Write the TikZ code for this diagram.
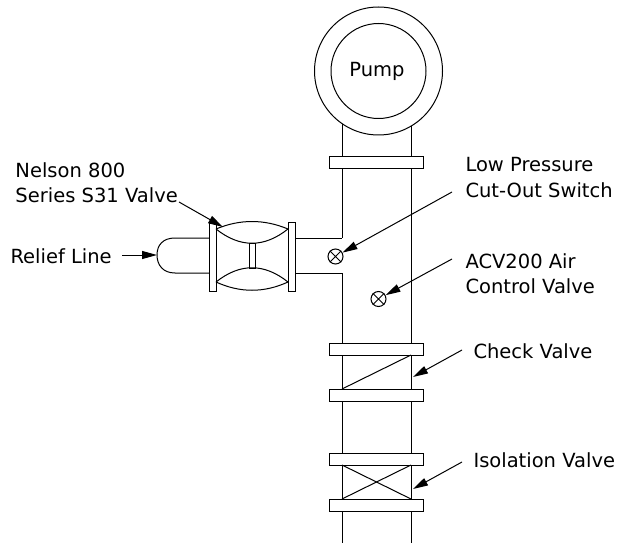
\documentclass[tikz,border=0pt]{standalone}
\usepackage{fontspec}
\setmainfont{DejaVu Sans}
\usetikzlibrary{arrows.meta,calc}

\tikzset{
  lbl/.style={anchor=base west, inner sep=0pt, align=left, font=\fontsize{19.5}{25}\selectfont},
  pointer/.style={-{Triangle[length=15pt,width=8pt]}},
  flange/.style={draw, fill=white},
  gauge/.style={draw, circle, fill=white, minimum size=15pt, inner sep=0pt},
}

\begin{document}
\begin{tikzpicture}[x=1pt,y=-1pt,line width=1pt]
  \useasboundingbox (0,0) rectangle (618,548);
  % main pipe
  \draw (342,71) -- (342,238);
  \draw (342,273) -- (342,543);
  \draw (411,71) -- (411,543);
  % pump
  \draw[fill=white] (378.5,71) circle[radius=64pt];
  \draw (378.5,71) circle[radius=47.5pt];
  \node[anchor=base, inner sep=0pt, font=\fontsize{19.5}{25}\selectfont] (pump) at (377,77) {Pump};
  % flanges on the main pipe
  \foreach \y in {157,343,389,453,499}
    \draw[flange] (329,\y) rectangle (423,\y+12);
  % check valve
  \draw (342,389) -- (411,355);
  % isolation valve
  \draw (342,465) -- (411,499);
  \draw (342,499) -- (411,465);
  % side branch and relief valve
  \draw (295,238) -- (342,238);
  \draw (295,273) -- (342,273);
  \draw[flange] (209,222) rectangle (216,291);
  \draw[flange] (288,222) rectangle (295,291);
  \draw (216,229) .. controls (240,219) and (264,219) .. (288,229);
  \draw (216,229) .. controls (240,248) and (264,248) .. (288,229);
  \draw (216,282) .. controls (240,263) and (264,263) .. (288,282);
  \draw (216,282) .. controls (240,293) and (264,293) .. (288,282);
  \draw (249,243) rectangle (255,268);
  % relief line loop
  \draw (209,238) -- (175,238) .. controls (163,238) and (157,245) .. (157,255)
        .. controls (157,265) and (163,273) .. (175,273) -- (209,273);
  % switch and air valve
  \node[gauge] (lps) at (335.5,256.5) {};
  \draw (lps.north west) -- (lps.south east) (lps.north east) -- (lps.south west);
  \node[gauge] (acvs) at (378.5,299) {};
  \draw (acvs.north west) -- (acvs.south east) (acvs.north east) -- (acvs.south west);
  % targets
  \coordinate (svtip) at (223,227);
  \coordinate (relieftip) at (157,255);
  \coordinate (chktip) at (413,377);
  \coordinate (isotip) at (413,489);
  % labels
  \node[lbl] (nelson) at (15,203) {Nelson 800\\Series S31 Valve};
  \node[lbl] (relief) at (10,263) {Relief Line};
  \node[lbl] (lowp) at (465,197) {Low Pressure\\Cut-Out Switch};
  \node[lbl] (acv) at (465,293) {ACV200 Air\\Control Valve};
  \node[lbl] (chk) at (473,358) {Check Valve};
  \node[lbl] (iso) at (473,467) {Isolation Valve};
  % pointers
  \draw[pointer] ($(nelson.base west)+(164,-1)$) -- (svtip);
  \draw[pointer] ($(relief.base west)+(112,-8)$) -- (relieftip);
  \draw[pointer] ($(lowp.base west)+(-13,-5)$) -- (lps);
  \draw[pointer] ($(acv.base west)+(-13,-34)$) -- (acvs);
  \draw[pointer] ($(chk.base west)+(-11,-8)$) -- (chktip);
  \draw[pointer] ($(iso.base west)+(-11,-5)$) -- (isotip);
\end{tikzpicture}
\end{document}
